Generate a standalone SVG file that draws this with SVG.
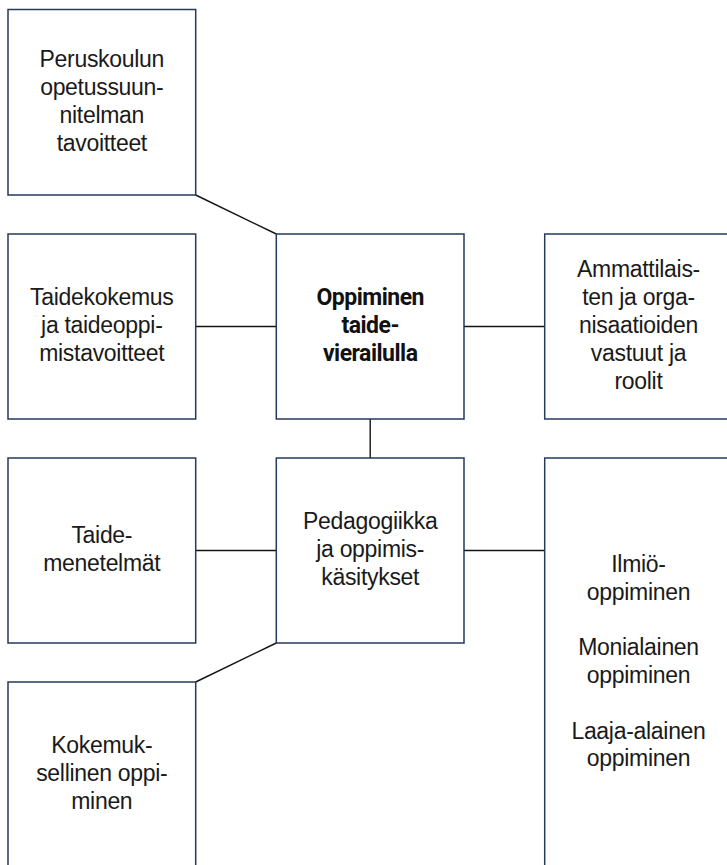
<svg xmlns="http://www.w3.org/2000/svg" width="727" height="865" viewBox="0 0 727 865">
<style>
.box{fill:#ffffff;stroke:#263a5c;stroke-width:1.5}
.con{stroke:#141414;stroke-width:1.4;fill:none}
.t{font-family:"Liberation Sans",Arial,sans-serif;font-size:23px;letter-spacing:-0.3px;fill:#1a1a1a;text-anchor:middle}
.b{font-family:Roboto,"Liberation Sans",sans-serif;font-weight:bold;font-size:23px;letter-spacing:-0.5px;fill:#111111;text-anchor:middle}
</style>
<rect width="727" height="865" fill="#ffffff"/>
<g id="connectors">
<line class="con" x1="195.7" y1="195" x2="276.3" y2="234"/>
<line class="con" x1="195.7" y1="326.5" x2="276.3" y2="326.5"/>
<line class="con" x1="464" y1="326.5" x2="544.7" y2="326.5"/>
<line class="con" x1="370.2" y1="419" x2="370.2" y2="458"/>
<line class="con" x1="195.7" y1="550.5" x2="276.3" y2="550.5"/>
<line class="con" x1="464" y1="550.5" x2="544.7" y2="550.5"/>
<line class="con" x1="276.3" y1="643" x2="195.7" y2="682"/>
</g>
<g id="peruskoulu">
<rect class="box" x="8" y="9.5" width="187.7" height="185.5"/>
<text class="t" x="101.8" y="67.3">Peruskoulun</text>
<text class="t" x="101.8" y="95.1">opetussuun-</text>
<text class="t" x="101.8" y="122.9">nitelman</text>
<text class="t" x="101.8" y="150.7">tavoitteet</text>
</g>
<g id="taidekokemus">
<rect class="box" x="8" y="234" width="187.7" height="185"/>
<text class="t" x="101.8" y="305.2">Taidekokemus</text>
<text class="t" x="101.8" y="333">ja taideoppi-</text>
<text class="t" x="101.8" y="360.8">mistavoitteet</text>
</g>
<g id="oppiminen">
<rect class="box" x="276.3" y="234" width="187.7" height="185"/>
<text class="b" x="370.2" y="305.2">Oppiminen</text>
<text class="b" x="370.2" y="333">taide-</text>
<text class="b" x="370.2" y="360.8">vierailulla</text>
</g>
<g id="ammattilaiset">
<rect class="box" x="544.7" y="234" width="187.7" height="185"/>
<text class="t" x="638.5" y="277.4">Ammattilais-</text>
<text class="t" x="638.5" y="305.2">ten ja orga-</text>
<text class="t" x="638.5" y="333">nisaatioiden</text>
<text class="t" x="638.5" y="360.8">vastuut ja</text>
<text class="t" x="638.5" y="388.6">roolit</text>
</g>
<g id="taidemenetelmat">
<rect class="box" x="8" y="458" width="187.7" height="185"/>
<text class="t" x="101.8" y="543.1">Taide-</text>
<text class="t" x="101.8" y="570.9">menetelmät</text>
</g>
<g id="pedagogiikka">
<rect class="box" x="276.3" y="458" width="187.7" height="185"/>
<text class="t" x="370.2" y="529.2">Pedagogiikka</text>
<text class="t" x="370.2" y="557">ja oppimis-</text>
<text class="t" x="370.2" y="584.8">käsitykset</text>
</g>
<g id="oppimismuodot">
<rect class="box" x="544.7" y="458" width="187.7" height="409"/>
<text class="t" x="638.5" y="571.7">Ilmiö-</text>
<text class="t" x="638.5" y="599.5">oppiminen</text>
<text class="t" x="638.5" y="655.1">Monialainen</text>
<text class="t" x="638.5" y="682.9">oppiminen</text>
<text class="t" x="638.5" y="738.5">Laaja-alainen</text>
<text class="t" x="638.5" y="766.3">oppiminen</text>
</g>
<g id="kokemuksellinen">
<rect class="box" x="8" y="682" width="187.7" height="185"/>
<text class="t" x="101.8" y="753.2">Kokemuk-</text>
<text class="t" x="101.8" y="781">sellinen oppi-</text>
<text class="t" x="101.8" y="808.8">minen</text>
</g>
</svg>
